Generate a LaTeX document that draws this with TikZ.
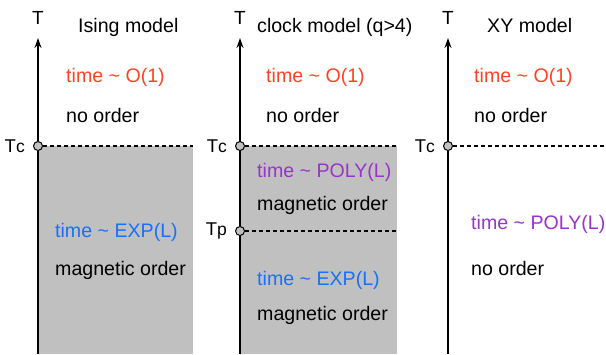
\documentclass[tikz,border=0pt]{standalone}
\usepackage{fontspec}
\setmainfont{Liberation Sans}
\usetikzlibrary{arrows.meta}
\definecolor{ordergray}{RGB}{192,192,192}
\definecolor{fastred}{RGB}{252,68,34}
\definecolor{slowblue}{RGB}{24,112,250}
\definecolor{polyviolet}{RGB}{153,51,204}
\newcommand{\critsub}[1]{{\fontsize{17.5}{17.5}\selectfont #1}}
\newcommand{\crit}[2]{node[crit] (#1) {} ++(-13,0) node[tlbl] (#1-lbl) {T\critsub{#2}}}

\begin{document}
\begin{tikzpicture}[x=1pt,y=-1pt,
  axis/.style={line width=1.6pt},
  crit/.style={circle,draw,line width=1pt,fill=ordergray,inner sep=0pt,minimum size=9pt},
  phase/.style={line width=1.3pt,dash pattern=on 4pt off 3pt},
  txt/.style={anchor=base west,inner sep=0pt,font=\fontsize{19.6}{22}\selectfont},
  tlbl/.style={anchor=east,inner sep=0pt,font=\fontsize{18.5}{18.5}\selectfont}]
\useasboundingbox (0,0) rectangle (606,354);
% ordered regions
\fill[ordergray] (38,146) rectangle (193,354);
\fill[ordergray] (240,146) rectangle (397,354);
% axes with critical points
\foreach \m/\x/\e in {ising/38/193,clock/240/397,xy/448/606} {
 \coordinate (\m-bot) at (\x,354);
 \coordinate (\m-top) at (\x,38);
 \coordinate (\m-end) at (\e,146);
 \node[txt,anchor=base,font=\fontsize{19}{19}\selectfont] (\m-T) at (\x,24) {T};
 \path (\x,146) \crit{\m-c}{c};
 \draw[phase] (\m-c) -- (\m-end);
 \draw[axis,-{Stealth[length=10pt,width=7pt]}] (\m-c) -- (\m-top);
 }
\draw[axis] (ising-bot) -- (ising-c);
\draw[axis] (xy-bot) -- (xy-c);
\path (240,231) \crit{clock-p}{p};
\coordinate (clock-pend) at (397,231);
\draw[phase] (clock-p) -- (clock-pend);
\draw[axis] (clock-bot) -- (clock-p);
\draw[axis] (clock-p) -- (clock-c);

% titles
\node[txt] (ising-title) at (78,32) {Ising model};
\node[txt] (clock-title) at (257,32) {clock model (q>4)};
\node[txt] (xy-title) at (487,32) {XY model};

% Ising
\node[txt,text=fastred] (ising-fast) at (66,82) {time \textasciitilde{} O(1)};
\node[txt] (ising-dis) at (66,122) {no order};
\node[txt,text=slowblue] (ising-slow) at (55,237) {time \textasciitilde{} EXP(L)};
\node[txt] (ising-ord) at (55,275) {magnetic order};

% clock
\node[txt,text=fastred] (clock-fast) at (266,82) {time \textasciitilde{} O(1)};
\node[txt] (clock-dis) at (266,122) {no order};
\node[txt,text=polyviolet] (clock-poly) at (257,177) {time \textasciitilde{} POLY(L)};
\node[txt] (clock-ord) at (257,210) {magnetic order};
\node[txt,text=slowblue] (clock-slow) at (257,285) {time \textasciitilde{} EXP(L)};
\node[txt] (clock-ord2) at (257,320) {magnetic order};

% XY
\node[txt,text=fastred] (xy-fast) at (474,82) {time \textasciitilde{} O(1)};
\node[txt] (xy-dis) at (474,122) {no order};
\node[txt,text=polyviolet] (xy-poly) at (471,229) {time \textasciitilde{} POLY(L)};
\node[txt] (xy-dis2) at (471,275) {no order};
\end{tikzpicture}
\end{document}
